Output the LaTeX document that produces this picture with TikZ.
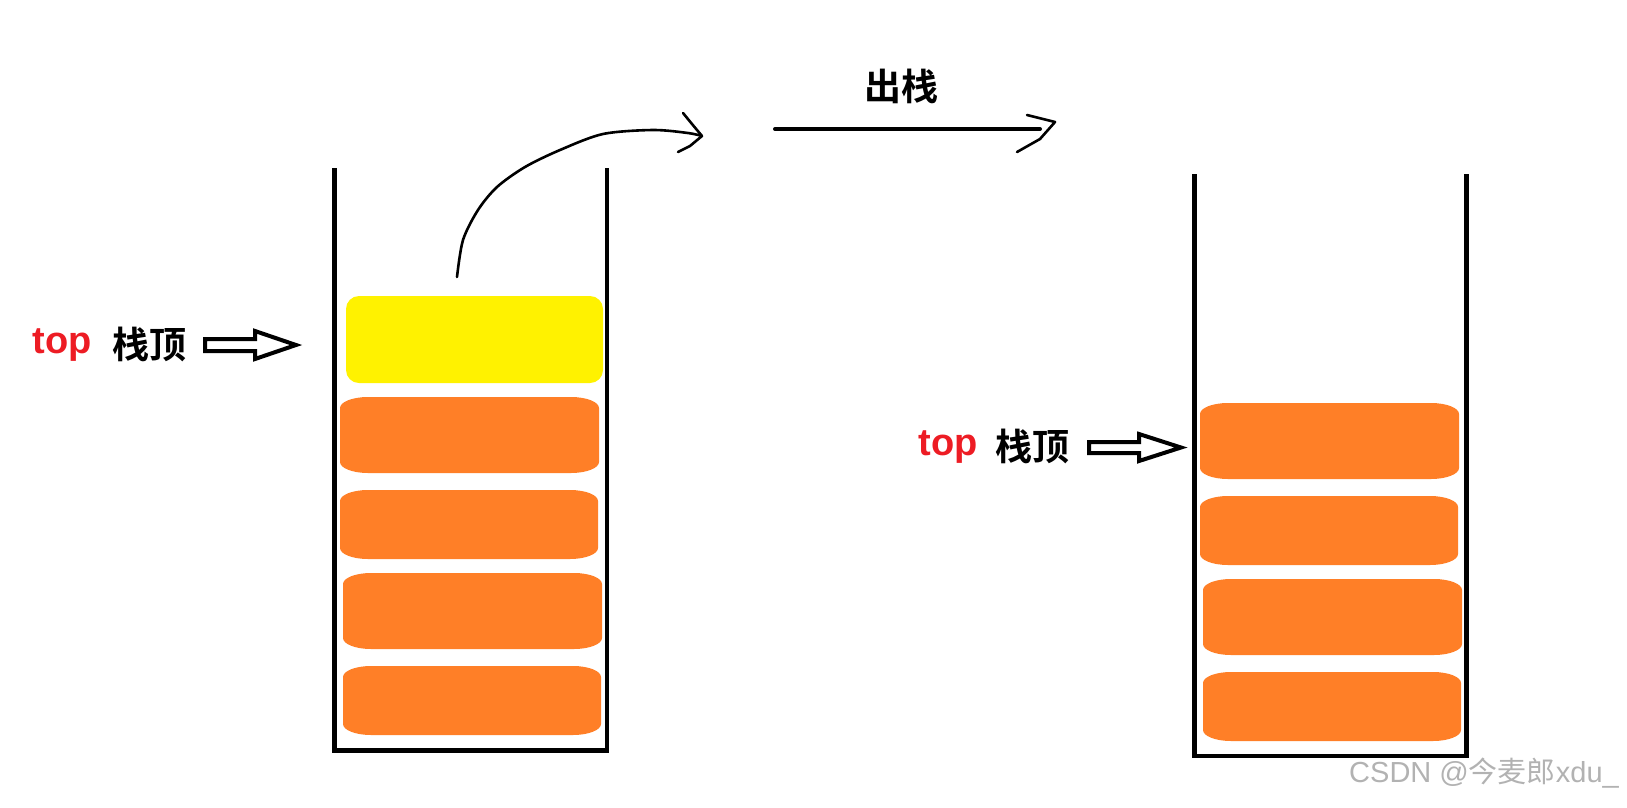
\documentclass[tikz,border=0pt]{standalone}
\usepackage{fontspec}
\newfontfamily\arialfont{Liberation Sans}
\newfontfamily\arialbold{Liberation Sans Bold}
\newfontfamily\cjkfont{Noto Sans CJK SC}
\newfontfamily\cjkbold{Noto Sans CJK SC Bold}
\usetikzlibrary{positioning}

\definecolor{topred}{RGB}{237,28,36}
\definecolor{blockorange}{RGB}{255,127,39}
\definecolor{blockyellow}{RGB}{255,242,0}

% orange block with elliptic corners: x1, y1, x2, y2
\newcommand{\stackblock}[4]{%
\fill[blockorange] ({#1+28},#2) -- ({#3-28},#2)
  arc[start angle=-90, end angle=0, x radius=28, y radius=11] -- (#3,{#4-11})
  arc[start angle=0, end angle=90, x radius=28, y radius=11] -- ({#1+28},#4)
  arc[start angle=90, end angle=180, x radius=28, y radius=11] -- (#1,{#2+11})
  arc[start angle=180, end angle=270, x radius=28, y radius=11] -- cycle;}

\tikzset{
  toplabel/.style={font=\arialbold\fontsize{38}{40}\selectfont, text=topred, inner sep=0pt},
  cnlabel/.style={font=\cjkbold\fontsize{37}{40}\selectfont, inner sep=0pt},
  wall/.style={line width=4.5pt, line join=miter},
  hollow/.style={line width=4pt, line join=miter},
  hand/.style={line width=2.6pt, line cap=round, line join=round}
}

\begin{document}
\begin{tikzpicture}[x=1pt, y=-1pt]
\useasboundingbox (0,0) rectangle (1627,807);

% Left: stack before pop
\draw[wall] (334.5,168) -- (334.5,750.5) -- (607,750.5) -- (607,168);
\fill[blockyellow, rounded corners=13pt] (346,296) rectangle (603,383);
\stackblock{340}{397}{599}{473}
\stackblock{340}{490}{598}{559}
\stackblock{343}{573}{602}{649}
\stackblock{343}{666}{601}{735}

\node[toplabel] (ltop) at (62,345) {top};
\node[cnlabel] (lstacktop) at (149,344) {栈顶};
\draw[hollow] (205,339) -- (255,339) -- (255,331) -- (296,345) -- (255,359) -- (255,351) -- (205,351) -- cycle;

% popped element leaves the stack
\coordinate (popfrom) at (457,277);
\coordinate (popto) at (702,136);
\draw[hand] plot[smooth] coordinates {(popfrom) (463,240) (478,210) (497,187) (525,167) (560,150) (603,134) (653,130) (688,133) (popto)};
\draw[hand] (683,113) -- (692,124) -- (popto) -- (690,146) -- (678,152);

% pop arrow
\node[cnlabel] (pop) at (901,86) {出栈};
\coordinate (popstart) at (775,129);
\coordinate (popend) at (1040,129);
\draw[line width=4pt, line cap=round] (popstart) -- (popend);
\draw[hand] (1027,115) -- (1055,122) -- (1040,139) -- (1017,152);

% Right: stack after pop
\draw[wall] (1194.5,174) -- (1194.5,756) -- (1466.5,756) -- (1466.5,174);
\stackblock{1200}{403}{1459}{479}
\stackblock{1200}{496}{1458}{565}
\stackblock{1203}{579}{1462}{655}
\stackblock{1203}{672}{1461}{741}

\node[toplabel] (rtop) at (948,447) {top};
\node[cnlabel] (rstacktop) at (1032,446) {栈顶};
\draw[hollow] (1089,442) -- (1139,442) -- (1139,434) -- (1181,447.5) -- (1139,461) -- (1139,453) -- (1089,453) -- cycle;

% watermark
\node[text=black!30, inner sep=0pt, font=\fontsize{29}{31}\selectfont] (mark) at (1484,773)
  {\arialfont CSDN @\cjkfont 今麦郎\arialfont xdu\_};
\end{tikzpicture}
\end{document}
